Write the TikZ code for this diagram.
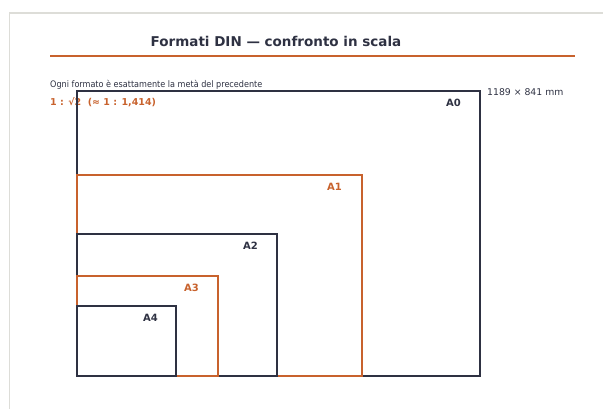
\documentclass[tikz,border=0pt]{standalone}
\usepackage{fontspec}
\setmainfont{DejaVu Sans}
\newfontfamily\condfont{DejaVu Sans Condensed}
\definecolor{navy}{HTML}{2E3142}
\definecolor{rust}{HTML}{C8622D}
\definecolor{framegray}{HTML}{DDDDD8}
\begin{document}
\begin{tikzpicture}[x=1pt,y=-1pt,
  navybox/.style={draw=navy,line width=2pt},
  rustbox/.style={draw=rust,line width=2pt},
  navylab/.style={anchor=east,text=navy,font=\fontsize{10}{12}\selectfont\bfseries,inner sep=0pt},
  rustlab/.style={anchor=east,text=rust,font=\fontsize{10}{12}\selectfont\bfseries,inner sep=0pt}]
\useasboundingbox (0,0) rectangle (603,409);
\draw[framegray,line width=1.2pt] (9.5,409) -- (9.5,13) -- (603,13);
\node[text=navy,font=\fontsize{13.5}{16}\selectfont\bfseries,inner sep=0pt] (title) at (276,41) {Formati DIN — confronto in scala};
\draw[rust,line width=1.5pt] (50,56) -- (575,56);
\node[anchor=west,inner sep=0pt,text=navy,font=\condfont\fontsize{9}{11}\selectfont] (sub) at (50,85) {Ogni formato è esattamente la metà del precedente};
\node[anchor=west,inner sep=0pt,text=rust,font=\fontsize{9.5}{12}\selectfont\bfseries] (ratio) at (50,102) {1 : √2\ \ (≈ 1 : 1,414)};
\node[anchor=west,inner sep=0pt,text=navy,font=\fontsize{9.3}{11}\selectfont] (dim) at (487,92) {1189 × 841 mm};
\draw[navybox] (77,91) rectangle (480,376);
\node[navylab] (a0) at (461,103) {A0};
\draw[rustbox] (77,175) rectangle (362,376);
\node[rustlab] (a1) at (342,187) {A1};
\draw[navybox] (77,234) rectangle (277,376);
\node[navylab] (a2) at (258,246) {A2};
\draw[rustbox] (77,276) rectangle (218,376);
\node[rustlab] (a3) at (199,288) {A3};
\draw[navybox] (77,306) rectangle (176,376);
\node[navylab] (a4) at (158,318) {A4};
\end{tikzpicture}
\end{document}
